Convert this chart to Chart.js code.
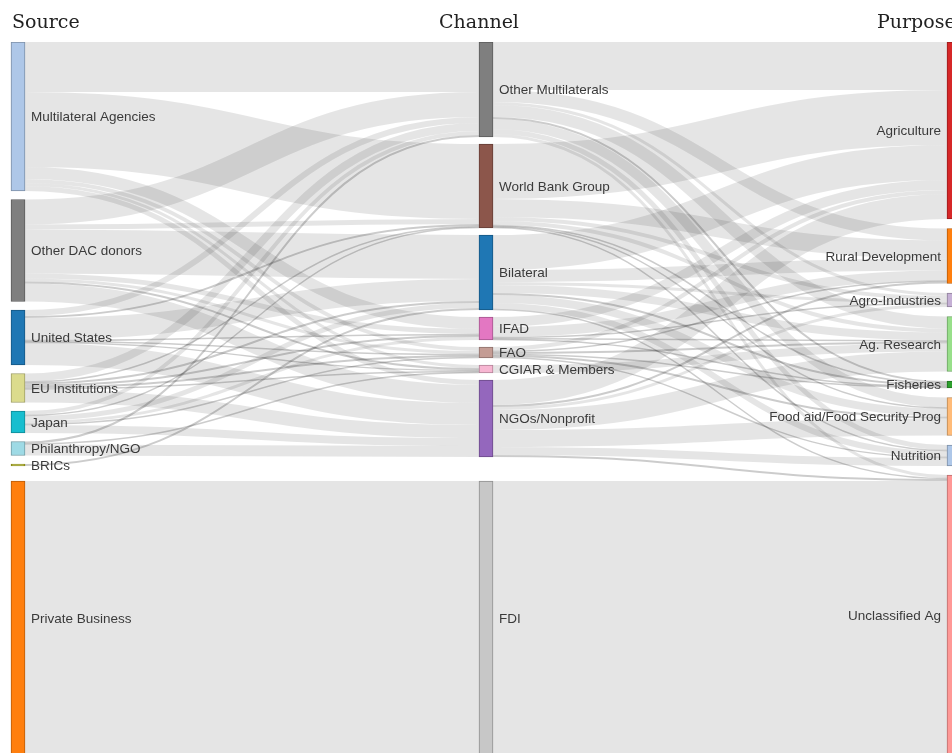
<!DOCTYPE html>
<html>
<head>
<meta charset="utf-8">
<script src="https://cdn.jsdelivr.net/npm/chart.js@4.4.1/dist/chart.umd.min.js"></script>
<style>
  html, body { margin: 0; padding: 0; background: #fff; }
  canvas { display: block; }
</style>
</head>
<body>
<canvas id="sankey" width="952" height="753"></canvas>
<script>
// node names per column
const sources = ['Multilateral Agencies', 'Other DAC donors', 'United States', 'EU Institutions',
  'Japan', 'Philanthropy/NGO', 'BRICs', 'Private Business'];
const channels = ['Other Multilaterals', 'World Bank Group', 'Bilateral', 'IFAD', 'FAO',
  'CGIAR & Members', 'NGOs/Nonprofit', 'FDI'];
const purposes = ['Agriculture', 'Rural Development', 'Agro-Industries', 'Ag. Research', 'Fisheries',
  'Food aid/Food Security Prog', 'Nutrition', 'Unclassified Ag'];
const headers = ['Source', 'Channel', 'Purpose'];

// source -> channel flows (one row per source, columns in channel order)
const fromMultilateral = [50, 75, 0, 12, 4, 3, 5, 0];
const fromOtherDac     = [25, 5, 44, 5, 3, 2, 18, 0];
const fromUS           = [6, 2, 22, 1, 1, 1, 22, 0];
const fromEU           = [8, 1, 2, 2, 2, 1, 13, 0];
const fromJapan        = [4, 1, 5, 3, 1, 0, 8, 0];
const fromPhilanthropy = [2, 0, 0, 0, 0, 1, 11, 0];
const fromBrics        = [0, 0, 2, 0, 0, 0, 0, 0];
const fromPrivate      = [0, 0, 0, 0, 0, 0, 0, 274];

// channel -> purpose flows (one row per channel, columns in purpose order)
const viaOtherMultilat = [48, 12, 3, 12, 2, 10, 5, 3];
const viaWorldBank     = [55, 18, 4, 4, 1, 1, 1, 0];
const viaBilateral     = [35, 12, 3, 8, 2, 8, 6, 1];
const viaIfad          = [10, 10, 1, 1, 1, 0, 0, 0];
const viaFao           = [4, 1, 0, 2, 1, 2, 1, 0];
const viaCgiar         = [0, 0, 0, 8, 0, 0, 0, 0];
const viaNgos          = [25, 2, 3, 20, 0, 17, 8, 2];
const viaFdi           = [0, 0, 0, 0, 0, 0, 0, 274];

const sourceFlows = [fromMultilateral, fromOtherDac, fromUS, fromEU, fromJapan, fromPhilanthropy, fromBrics, fromPrivate];
const channelFlows = [viaOtherMultilat, viaWorldBank, viaBilateral, viaIfad, viaFao, viaCgiar, viaNgos, viaFdi];

const sourceColors  = ['#aec7e8', '#7f7f7f', '#1f77b4', '#dbdb8d', '#17becf', '#9edae5', '#bcbd22', '#ff7f0e'];
const channelColors = ['#7f7f7f', '#8c564b', '#1f77b4', '#e377c2', '#c49c94', '#f7b6d2', '#9467bd', '#c7c7c7'];
const purposeColors = ['#d62728', '#ff7f0e', '#c5b0d5', '#98df8a', '#2ca02c', '#ffbb78', '#aec7e8', '#ff9896'];

// layout settings
const columns = [sources, channels, purposes];
const columnColors = [sourceColors, channelColors, purposeColors];
const columnPad = [8.5, 7, 9.5];
const EXTENT = 713;       // layout height in value units, bottom nodes sit on it
const NODE_W = 14;
const FIRST_CENTER = 18;  // px
const COL_STEP = 468;     // px between columns
const W = 952, H = 753, TOP = 42;

function darker(hex, k) {
  const n = parseInt(hex.slice(1), 16);
  const r = Math.round(((n >> 16) & 255) * k), g = Math.round(((n >> 8) & 255) * k), b = Math.round((n & 255) * k);
  return 'rgb(' + r + ',' + g + ',' + b + ')';
}

////// build nodes + links
const nodes = [];
columns.forEach((names, c) => names.forEach((name, i) => {
  nodes.push({ name, col: c, idx: i, color: columnColors[c][i], inLinks: [], outLinks: [] });
}));
const nodeAt = (c, i) => nodes.find(n => n.col === c && n.idx === i);

const links = [];
[sourceFlows, channelFlows].forEach((rows, c) => rows.forEach((row, i) => row.forEach((v, j) => {
  if (!v) return;
  const l = { src: nodeAt(c, i), dst: nodeAt(c + 1, j), value: v };
  links.push(l);
  l.src.outLinks.push(l);
  l.dst.inLinks.push(l);
})));

const total = arr => arr.reduce((s, l) => s + l.value, 0);
nodes.forEach(n => { n.value = Math.max(total(n.inLinks), total(n.outLinks)); });

// stack from the top, last (big) node sits on the bottom
columns.forEach((names, c) => {
  const col = nodes.filter(n => n.col === c);
  let y = 0;
  col.forEach((n, k) => {
    if (k === col.length - 1) { n.y1 = EXTENT; n.y0 = EXTENT - n.value; }
    else { n.y0 = y; n.y1 = y + n.value; y = n.y1 + columnPad[c]; }
  });
});

nodes.forEach(n => {
  n.outLinks.sort((a, b) => a.dst.y0 - b.dst.y0);
  n.inLinks.sort((a, b) => a.src.y0 - b.src.y0);
  let y = n.y0;
  n.outLinks.forEach(l => { l.sy = y; y += l.value; });
  y = n.y0;
  n.inLinks.forEach(l => { l.ty = y; y += l.value; });
});

////// plugins: links under the nodes, labels on top
const linkPlugin = {
  id: 'sankeyLinks',
  beforeDatasetsDraw(chart) {
    const { ctx, scales: { x, y } } = chart;
    ctx.save();
    ctx.lineCap = 'butt';
    links.forEach(l => {
      const x0 = x.getPixelForValue(l.src.col) + NODE_W / 2;
      const x1 = x.getPixelForValue(l.dst.col) - NODE_W / 2;
      const y0 = y.getPixelForValue(l.sy + l.value / 2);
      const y1 = y.getPixelForValue(l.ty + l.value / 2);
      const w = Math.abs(y.getPixelForValue(l.value) - y.getPixelForValue(0));
      const xm = (x0 + x1) / 2;
      // thin links read darker in the original
      ctx.strokeStyle = w < 3 ? 'rgba(0,0,0,0.2)' : 'rgba(0,0,0,0.1)';
      ctx.lineWidth = Math.max(1.5, w);
      ctx.beginPath();
      ctx.moveTo(x0, y0);
      ctx.bezierCurveTo(xm, y0, xm, y1, x1, y1);
      ctx.stroke();
    });
    ctx.restore();
  }
};

const labelPlugin = {
  id: 'sankeyLabels',
  afterDatasetsDraw(chart) {
    const { ctx, scales: { x, y } } = chart;
    ctx.save();
    ctx.font = '13.5px "Liberation Sans", Arial, sans-serif';
    ctx.fillStyle = '#3a3a3a';
    ctx.textBaseline = 'middle';
    nodes.forEach(n => {
      const cx = x.getPixelForValue(n.col);
      const cy = (y.getPixelForValue(n.y0) + y.getPixelForValue(n.y1)) / 2 + 1;
      if (n.col === 2) {
        ctx.textAlign = 'right';
        ctx.fillText(n.name, cx - NODE_W / 2 - 6, cy);
      } else {
        ctx.textAlign = 'left';
        ctx.fillText(n.name, cx + NODE_W / 2 + 6, cy);
      }
    });
    // column headers
    ctx.font = '19px "DejaVu Serif", Georgia, serif';
    ctx.fillStyle = '#222';
    ctx.textBaseline = 'alphabetic';
    ctx.textAlign = 'left';
    ctx.fillText(headers[0], x.getPixelForValue(0) - NODE_W / 2 + 1, 28);
    ctx.textAlign = 'center';
    ctx.fillText(headers[1], x.getPixelForValue(1) - NODE_W / 2, 28);
    ctx.textAlign = 'left';
    ctx.fillText(headers[2], x.getPixelForValue(2) - NODE_W / 2 - 70, 28);
    ctx.restore();
  }
};

new Chart(document.getElementById('sankey'), {
  type: 'bar',
  data: {
    datasets: [{
      data: nodes.map(n => ({ x: n.col, y: [n.y0, n.y1] })),
      backgroundColor: nodes.map(n => n.color),
      borderColor: nodes.map(n => darker(n.color, 0.72)),
      borderWidth: 1,
      borderSkipped: false,
      barThickness: NODE_W
    }]
  },
  options: {
    responsive: false,
    animation: false,
    layout: { padding: { top: TOP, left: 0, right: 0, bottom: 0 } },
    scales: {
      x: { type: 'linear', display: false, offset: false, min: -FIRST_CENTER / COL_STEP, max: (W - FIRST_CENTER) / COL_STEP },
      y: { type: 'linear', display: false, reverse: true, min: 0, max: H - TOP }
    },
    plugins: { legend: { display: false }, tooltip: { enabled: false } }
  },
  plugins: [linkPlugin, labelPlugin]
});
</script>
</body>
</html>
